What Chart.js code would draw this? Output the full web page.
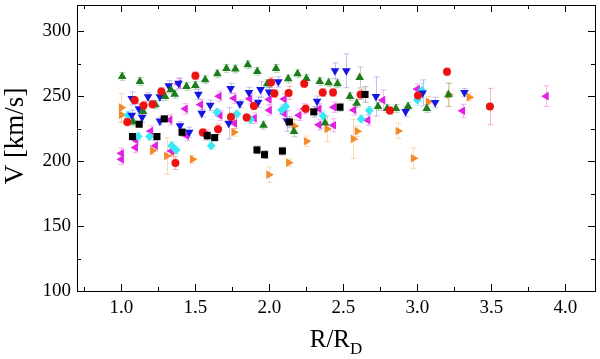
<!DOCTYPE html>
<html>
<head>
<meta charset="utf-8">
<script src="https://cdn.jsdelivr.net/npm/chart.js@4/dist/chart.umd.min.js"></script>
<style>
  html, body { margin: 0; padding: 0; background: #fff; }
  #wrap { width: 600px; height: 359px; }
</style>
</head>
<body>
<div id="wrap"><canvas id="chart" width="600" height="359"></canvas></div>
<script>
// axis ticks
const xTicks = [1.0, 1.5, 2.0, 2.5, 3.0, 3.5, 4.0];
const xMinor = [0.75, 1.25, 1.75, 2.25, 2.75, 3.25, 3.75];
const yTicks = [100, 150, 200, 250, 300];
const yMinor = [125, 175, 225, 275];

// black squares
const blackR = [1.075, 1.12, 1.24, 1.29, 1.41, 1.58, 1.63, 1.916, 1.967, 2.088, 2.135, 2.30, 2.477, 2.646];
const blackV = [218.8, 228.3, 218.8, 232.4, 222.1, 219.5, 218, 208.5, 204.9, 207.7, 230, 237.8, 241.4, 251.2];
const blackE = [2, 2, 2, 2, 3, 3, 2, 3, 3, 3, 4, 4, 3, 6];

// red circles
const redR = [1.04, 1.09, 1.15, 1.21, 1.27, 1.365, 1.50, 1.55, 1.653, 1.74, 1.846, 1.895, 2.011, 2.034, 2.13, 2.235, 2.245, 2.36, 2.43, 2.616, 2.814, 3.004, 3.20, 3.49];
const redV = [230, 246.8, 242.7, 243.7, 253.5, 198.5, 265.6, 221.9, 224.4, 233.9, 233.4, 242.4, 260.4, 251.9, 252.4, 259.4, 240.1, 252.7, 252.7, 251.2, 238.8, 250.4, 268.6, 241.9];
const redE = [3, 3, 3, 3, 3, 5, 3, 3, 4, 3, 3, 3, 4, 3, 5, 3, 3, 3, 3, 4, 3, 4, 3, 14];

// green up-triangles
const greenR = [1.005, 1.08, 1.125, 1.147, 1.23, 1.295, 1.334, 1.36, 1.44, 1.50, 1.566, 1.648, 1.71, 1.77, 1.854, 1.918, 1.96, 1.985, 2.045, 2.127, 2.166, 2.19, 2.25, 2.34, 2.376, 2.40, 2.46, 2.544, 2.59, 2.61, 2.734, 2.796, 2.855, 2.937, 3.063, 3.21];
const greenV = [265, 230, 261.2, 238, 243.2, 249.6, 254.8, 251.4, 257.3, 258.1, 262.5, 267.1, 271.2, 270.7, 274, 268.9, 227.5, 259.4, 271.2, 263.2, 222.6, 267.1, 263.5, 261.2, 229.3, 260.2, 259.4, 249.6, 244.5, 264.3, 241.9, 240.4, 240.4, 241.9, 240.4, 250.9];
const greenE = [3, 3, 3, 3, 3, 3, 3, 3, 3, 3, 3, 3, 3, 3, 3, 3, 3, 3, 3, 3, 4, 3, 3, 3, 4, 3, 3, 3, 3, 8, 3, 3, 3, 3, 3, 9];

// blue down-triangles
const blueR = [1.07, 1.07, 1.118, 1.14, 1.18, 1.26, 1.26, 1.32, 1.386, 1.396, 1.458, 1.52, 1.543, 1.60, 1.725, 1.738, 1.80, 1.862, 1.924, 1.94, 1.998, 2.06, 2.119, 2.322, 2.443, 2.52, 2.72, 2.92, 3.035, 3.12, 3.318];
const blueV = [248.1, 235.2, 240.1, 233.7, 249.4, 249.4, 230.8, 257.8, 259.9, 227.2, 222.1, 251.4, 236.8, 242.9, 229, 255.8, 244, 252.7, 245.2, 255, 253, 260.9, 230.8, 246, 269.4, 269.4, 249.6, 238, 252.4, 245, 252.7];
const blueE = [5, 4, 4, 4, 3, 3, 3, 4, 4, 3, 4, 4, 3, 4, 12, 4, 3, 4, 4, 6, 4, 4, 8, 4, 6, 13, 15, 4, 10, 4, 3];

// cyan diamonds
const cyanR = [1.044, 1.113, 1.19, 1.34, 1.37, 1.607, 1.646, 1.78, 1.872, 2.083, 2.11, 2.363, 2.62, 2.675, 3.0, 3.03];
const cyanV = [235.2, 218.8, 218.8, 211.8, 208.5, 211.8, 237.5, 236.2, 231.9, 239.3, 241.9, 234.7, 232.4, 238.8, 247, 254.2];
const cyanE = [3, 3, 3, 3, 3, 3, 3, 3, 3, 4, 4, 4, 3, 3, 4, 6];

// magenta left-triangles
const magR = [1.0, 1.0, 1.095, 1.097, 1.198, 1.23, 1.327, 1.337, 1.386, 1.432, 1.44, 1.535, 1.57, 1.66, 1.666, 1.76, 1.764, 1.867, 1.898, 1.998, 2.0, 2.1, 2.1, 2.2, 2.237, 2.335, 2.335, 2.433, 2.435, 2.57, 2.665, 2.766, 3.0, 3.305, 3.87];
const magV = [205.9, 201.3, 210.3, 216.2, 223.1, 211.8, 231.6, 207.7, 259.4, 240.1, 219.5, 243.4, 220, 249.9, 235, 248.3, 229, 247.8, 233, 247.3, 239.1, 247.6, 236.5, 235.2, 240.1, 227.8, 240.1, 227.5, 241.4, 239.3, 231.4, 246.8, 255.3, 238.6, 249.9];
const magE = [4, 4, 4, 4, 4, 4, 4, 4, 4, 4, 4, 4, 4, 4, 4, 4, 4, 4, 4, 4, 4, 4, 4, 4, 4, 4, 4, 5, 4, 4, 4, 8, 4, 5, 8];

// orange right-triangles
const orangeR = [1.0, 1.0, 1.21, 1.306, 1.35, 1.48, 1.76, 1.996, 2.13, 2.168, 2.25, 2.39, 2.567, 2.593, 2.87, 2.973, 3.074, 3.213, 3.35];
const orangeV = [241.1, 235.5, 208, 203.9, 206.7, 201.3, 222.1, 189.5, 198.7, 227, 215.2, 224.7, 217, 222.9, 223.1, 202.1, 245.5, 250.9, 249.1];
const orangeE = [11, 6, 3, 14, 5, 3, 3, 6, 3, 5, 4, 10, 15, 4, 6, 8, 4, 9, 3];

const pts = (xs, vs) => xs.map((x, i) => ({ x, y: vs[i] }));

function series(xs, vs, errs, color, errColor, style, radius, rotation, order) {
  return {
    data: pts(xs, vs),
    errors: errs,
    errorColor: errColor,
    pointStyle: style,
    pointRadius: radius,
    pointHoverRadius: radius,
    rotation: rotation,
    backgroundColor: color,
    borderColor: color,
    borderWidth: 0,
    showLine: false,
    order: order
  };
}

const FONT = '"Liberation Serif", "Times New Roman", serif';

// vertical error bars with small caps, drawn under the markers
const errorBars = {
  id: 'errorBars',
  beforeDatasetsDraw(chart) {
    const { ctx, scales: { x, y } } = chart;
    ctx.save();
    ctx.lineWidth = 0.8;
    chart.data.datasets.forEach(ds => {
      ctx.strokeStyle = ds.errorColor;
      ds.data.forEach((p, j) => {
        const e = ds.errors[j];
        const px = Math.round(x.getPixelForValue(p.x)) + 0.5;
        const y1 = y.getPixelForValue(p.y + e);
        const y2 = y.getPixelForValue(p.y - e);
        ctx.beginPath();
        ctx.moveTo(px, y1); ctx.lineTo(px, y2);
        ctx.moveTo(px - 3, y1); ctx.lineTo(px + 3, y1);
        ctx.moveTo(px - 3, y2); ctx.lineTo(px + 3, y2);
        ctx.stroke();
      });
    });
    ctx.restore();
  }
};

// box frame, inward ticks on all four sides, axis titles
const frame = {
  id: 'frame',
  afterDraw(chart) {
    const { ctx, chartArea: a, scales: { x, y } } = chart;
    ctx.save();
    ctx.strokeStyle = '#000';
    ctx.lineWidth = 1;
    ctx.strokeRect(Math.round(a.left) + 0.5, Math.round(a.top) + 0.5,
                   Math.round(a.right - a.left), Math.round(a.bottom - a.top));
    ctx.beginPath();
    const xt = (v, len) => {
      const px = Math.round(x.getPixelForValue(v)) + 0.5;
      ctx.moveTo(px, a.bottom); ctx.lineTo(px, a.bottom - len);
      ctx.moveTo(px, a.top); ctx.lineTo(px, a.top + len);
    };
    const yt = (v, len) => {
      const py = Math.round(y.getPixelForValue(v)) + 0.5;
      ctx.moveTo(a.left, py); ctx.lineTo(a.left + len, py);
      ctx.moveTo(a.right, py); ctx.lineTo(a.right - len, py);
    };
    xTicks.forEach(v => xt(v, 7));
    xMinor.forEach(v => xt(v, 4));
    yTicks.forEach(v => yt(v, 7));
    yMinor.forEach(v => yt(v, 4));
    ctx.stroke();

    ctx.fillStyle = '#000';
    // y title
    ctx.save();
    ctx.translate(23, (a.top + a.bottom) / 2 - 12);
    ctx.rotate(-Math.PI / 2);
    ctx.font = '27px ' + FONT;
    ctx.textAlign = 'center';
    ctx.textBaseline = 'alphabetic';
    ctx.fillText('V [km/s]', 0, 0);
    ctx.restore();

    // x title R/R_D
    ctx.font = '25px ' + FONT;
    ctx.textBaseline = 'alphabetic';
    ctx.textAlign = 'left';
    const main = 'R/R';
    const w1 = ctx.measureText(main).width;
    ctx.font = '17px ' + FONT;
    const w2 = ctx.measureText('D').width;
    const cx = (a.left + a.right) / 2;
    const x0 = cx - (w1 + w2) / 2;
    ctx.font = '25px ' + FONT;
    ctx.fillText(main, x0, 347);
    ctx.font = '17px ' + FONT;
    ctx.fillText('D', x0 + w1, 354);
    ctx.restore();
  }
};

new Chart(document.getElementById('chart'), {
  type: 'scatter',
  data: {
    datasets: [
      series(blackR, blackV, blackE, '#000000', 'rgba(0,0,0,0.35)', 'rect', 5, 0, 1),
      series(redR, redV, redE, '#ee1111', 'rgba(230,60,60,0.45)', 'circle', 4, 0, 2),
      series(greenR, greenV, greenE, '#1b7d1b', 'rgba(40,130,40,0.4)', 'triangle', 5, 0, 3),
      series(blueR, blueV, blueE, '#1515e0', 'rgba(60,60,230,0.4)', 'triangle', 5, 180, 4),
      series(cyanR, cyanV, cyanE, '#3ae8f5', 'rgba(60,220,240,0.45)', 'rectRot', 4.5, 0, 5),
      series(magR, magV, magE, '#e022e0', 'rgba(225,60,225,0.45)', 'triangle', 5, -90, 6),
      series(orangeR, orangeV, orangeE, '#f28a2a', 'rgba(240,150,60,0.45)', 'triangle', 5, 90, 7)
    ]
  },
  options: {
    responsive: false,
    animation: false,
    layout: { padding: { left: 0, right: 2, top: 4, bottom: 0 } },
    plugins: { legend: { display: false }, tooltip: { enabled: false } },
    scales: {
      x: {
        type: 'linear',
        min: 0.7,
        max: 4.2,
        afterFit: s => { s.height = 68; s.paddingLeft = 0; s.paddingRight = 0; },
        afterBuildTicks: s => { s.ticks = xTicks.map(v => ({ value: v })); },
        grid: { display: false, drawTicks: false },
        border: { display: false },
        ticks: {
          color: '#000',
          font: { family: FONT, size: 19 },
          padding: 6,
          maxRotation: 0,
          callback: v => v.toFixed(1)
        }
      },
      y: {
        min: 100,
        max: 320,
        afterFit: s => { s.width = 77; s.paddingTop = 0; s.paddingBottom = 0; },
        afterBuildTicks: s => { s.ticks = yTicks.map(v => ({ value: v })); },
        grid: { display: false, drawTicks: false },
        border: { display: false },
        ticks: {
          color: '#000',
          font: { family: FONT, size: 19 },
          padding: 6,
          callback: v => String(v)
        }
      }
    }
  },
  plugins: [errorBars, frame]
});
</script>
</body>
</html>
